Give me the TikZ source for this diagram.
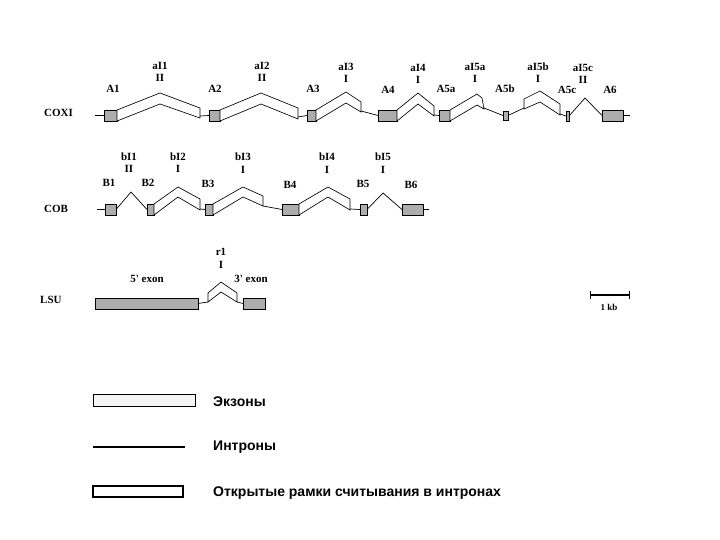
\documentclass[tikz,border=0pt]{standalone}
\usepackage{fontspec}
\setmainfont{Liberation Serif}
\newfontfamily\legfont{Liberation Sans}
\tikzset{
 exon/.style={draw, line width=0.6pt, fill=black!32, inner sep=0pt, outer sep=0pt, anchor=north west},
 orf/.style={draw, line width=0.65pt, fill=white, line join=miter},
 intron/.style={line width=0.7pt},
 lab/.style={font=\bfseries\fontsize{11}{12}\selectfont, inner sep=0pt},
 rowlab/.style={lab, anchor=west},
 leg/.style={font=\legfont\bfseries\fontsize{14}{16}\selectfont, anchor=west, inner sep=0pt},
}
\newcommand\exonbox[5]{\node[exon, minimum width={(#4)-(#2)}, minimum height={(#5)-(#3)}] (#1) at (#2,#3) {};}
\begin{document}
\begin{tikzpicture}[x=1pt,y=-1pt]
\useasboundingbox (0,0) rectangle (720,540);
% ---------------- COXI ----------------
\node[rowlab] (lCOXI) at (44,113) {COXI};
\coordinate (c0) at (95,115.5);
\coordinate (c1) at (630,115.5);
\exonbox{A1}{104}{110}{117}{121}
\exonbox{A2}{209}{110}{220}{121}
\exonbox{A3}{307}{110}{316}{121}
\exonbox{A4}{378}{110}{397}{121}
\exonbox{A5a}{439}{110}{450}{121}
\exonbox{A5b}{503}{111}{508}{120}
\exonbox{A5c}{566}{111}{569}{121}
\exonbox{A6}{602}{110}{623}{121}
% ORF bands
\draw[orf] (A1.north east) -- (160,93) -- (200,108) -- (200,118) -- (160,104) -- (A1.south east) -- cycle;
\draw[orf] (A2.north east) -- (261,93) -- (298,108) -- (298,119) -- (261,104) -- (A2.south east) -- cycle;
\draw[orf] (A3.north east) -- (346,92) -- (361,102) -- (361,112) -- (346,103) -- (A3.south east) -- cycle;
\draw[orf] (A4.north east) -- (418,93) -- (434,106) -- (434,116) -- (418,104) -- (A4.south east) -- cycle;
\draw[orf] (A5a.north east) -- (477,94) -- (482,98) -- (484,109) -- (477,105) -- (A5a.south east) -- cycle;
\draw[orf] (524,99) -- (540,91) -- (560,104) -- (560,115) -- (540,102) -- (524,109) -- cycle;
% band ends
\coordinate (o1) at (200,116);
\coordinate (o2) at (298,117);
\coordinate (o3) at (361,111);
\coordinate (o4) at (434,115);
\coordinate (o5) at (484,108);
\coordinate (o6l) at (524,108);
\coordinate (o6r) at (560,114);
\coordinate (p7) at (585,98);
% introns
\draw[intron] (c0) -- (A1.west);
\draw[intron] (o1) -- (A2.west);
\draw[intron] (o2) -- (A3.west);
\draw[intron] (o3) -- (A4.west);
\draw[intron] (o4) -- (A5a.west);
\draw[intron] (o5) -- (A5b.west);
\draw[intron] (A5b.east) -- (o6l);
\draw[intron] (o6r) -- (A5c.west);
\draw[intron] (A5c.east) -- (p7) -- (A6.west);
\draw[intron] (A6.east) -- (c1);
% labels
\node[lab] (tA1) at (113,89) {A1};
\node[lab] (tA2) at (215,89) {A2};
\node[lab] (tA3) at (313,89) {A3};
\node[lab] (tA4) at (388,90) {A4};
\node[lab] (tA5a) at (446,89) {A5a};
\node[lab] (tA5b) at (505,89) {A5b};
\node[lab] (tA5c) at (567,90) {A5c};
\node[lab] (tA6) at (610,90) {A6};
\node[lab] (naI1) at (160,66) {aI1};  \node[lab] (kaI1) at (160,78) {II};
\node[lab] (naI2) at (262,66) {aI2};  \node[lab] (kaI2) at (262,78) {II};
\node[lab] (naI3) at (346,67) {aI3};  \node[lab] (kaI3) at (346,79) {I};
\node[lab] (naI4) at (418,68) {aI4};  \node[lab] (kaI4) at (418,80) {I};
\node[lab] (naI5a) at (475,67) {aI5a}; \node[lab] (kaI5a) at (475,79) {I};
\node[lab] (naI5b) at (538,67) {aI5b}; \node[lab] (kaI5b) at (538,79) {I};
\node[lab] (naI5c) at (583,68) {aI5c}; \node[lab] (kaI5c) at (583,80) {II};
% ---------------- COB ----------------
\node[rowlab] (lCOB) at (44,209) {COB};
\coordinate (d0) at (97,209.5);
\coordinate (d1) at (429,209.5);
\exonbox{B1}{105}{204}{116}{215}
\exonbox{B2}{147}{204}{154}{215}
\exonbox{B3}{205}{204}{213}{215}
\exonbox{B4}{282}{204}{299}{215}
\exonbox{B5}{360}{204}{367}{215}
\exonbox{B6}{402}{204}{423}{215}
\draw[orf] (B2.north east) -- (178,187) -- (200,199) -- (200,210) -- (178,197) -- (B2.south east) -- cycle;
\draw[orf] (B3.north east) -- (243,187) -- (263,196) -- (263,206) -- (243,197) -- (B3.south east) -- cycle;
\draw[orf] (B4.north east) -- (328,187) -- (350,199) -- (350,210) -- (328,197) -- (B4.south east) -- cycle;
\coordinate (q1) at (131,192);
\coordinate (q2) at (200,209);
\coordinate (q3) at (263,206);
\coordinate (q4) at (350,209);
\coordinate (q5) at (383,193);
\draw[intron] (d0) -- (B1.west);
\draw[intron] (B1.east) -- (q1) -- (B2.west);
\draw[intron] (q2) -- (B3.west);
\draw[intron] (q3) -- (B4.west);
\draw[intron] (q4) -- (B5.west);
\draw[intron] (B5.east) -- (q5) -- (B6.west);
\draw[intron] (B6.east) -- (d1);
\node[lab] (tB1) at (109,183) {B1};
\node[lab] (tB2) at (148,183) {B2};
\node[lab] (tB3) at (208,184) {B3};
\node[lab] (tB4) at (290,185) {B4};
\node[lab] (tB5) at (363,184) {B5};
\node[lab] (tB6) at (411,185) {B6};
\node[lab] (nbI1) at (129,157) {bI1}; \node[lab] (kbI1) at (129,169) {II};
\node[lab] (nbI2) at (178,157) {bI2}; \node[lab] (kbI2) at (178,169) {I};
\node[lab] (nbI3) at (243,157) {bI3}; \node[lab] (kbI3) at (243,170) {I};
\node[lab] (nbI4) at (327,157) {bI4}; \node[lab] (kbI4) at (327,170) {I};
\node[lab] (nbI5) at (383,157) {bI5}; \node[lab] (kbI5) at (383,170) {I};
% ---------------- LSU ----------------
\node[rowlab] (lLSU) at (40,300) {LSU};
\exonbox{E5}{95}{298}{198}{309}
\exonbox{E3}{243}{298}{265}{309}
\draw[orf] (208,293) -- (221,282) -- (237,293) -- (237,302) -- (221,292) -- (208,302) -- cycle;
\coordinate (r0) at (208,302);
\coordinate (r1) at (237,302);
\draw[intron] (E5.east) -- (r0);
\draw[intron] (r1) -- (E3.west);
\node[lab] (t5e) at (147,279) {5\textquotesingle{} exon};
\node[lab] (t3e) at (251,279) {3\textquotesingle{} exon};
\node[lab] (nr1) at (221,252) {r1}; \node[lab] (kr1) at (221,265) {I};
% scale bar
\coordinate (s0) at (590,295);
\coordinate (s1) at (629,295);
\draw[line width=1.1pt] (s0) -- (s1);
\draw[line width=0.8pt] (590,291) -- (590,299) (629,291) -- (629,299);
\node[lab, font=\bfseries\fontsize{9}{10}\selectfont] (tkb) at (609,307) {1 kb};
% ---------------- legend ----------------
\node[draw, line width=0.5pt, fill=gray!8, anchor=north west, inner sep=0pt, outer sep=0pt, minimum width=102pt, minimum height=12pt] (legE) at (93,394) {};
\coordinate (li0) at (93,447);
\coordinate (li1) at (185,447);
\draw[line width=1.4pt] (li0) -- (li1);
\node[draw, line width=1.5pt, fill=white, anchor=north west, inner sep=0pt, outer sep=0pt, minimum width=90pt, minimum height=11pt] (legO) at (93,486) {};
\node[leg] (txE) at (213,402) {Экзоны};
\node[leg] (txI) at (213,447) {Интроны};
\node[leg] (txO) at (213,493) {Открытые рамки считывания в интронах};
\end{tikzpicture}
\end{document}
